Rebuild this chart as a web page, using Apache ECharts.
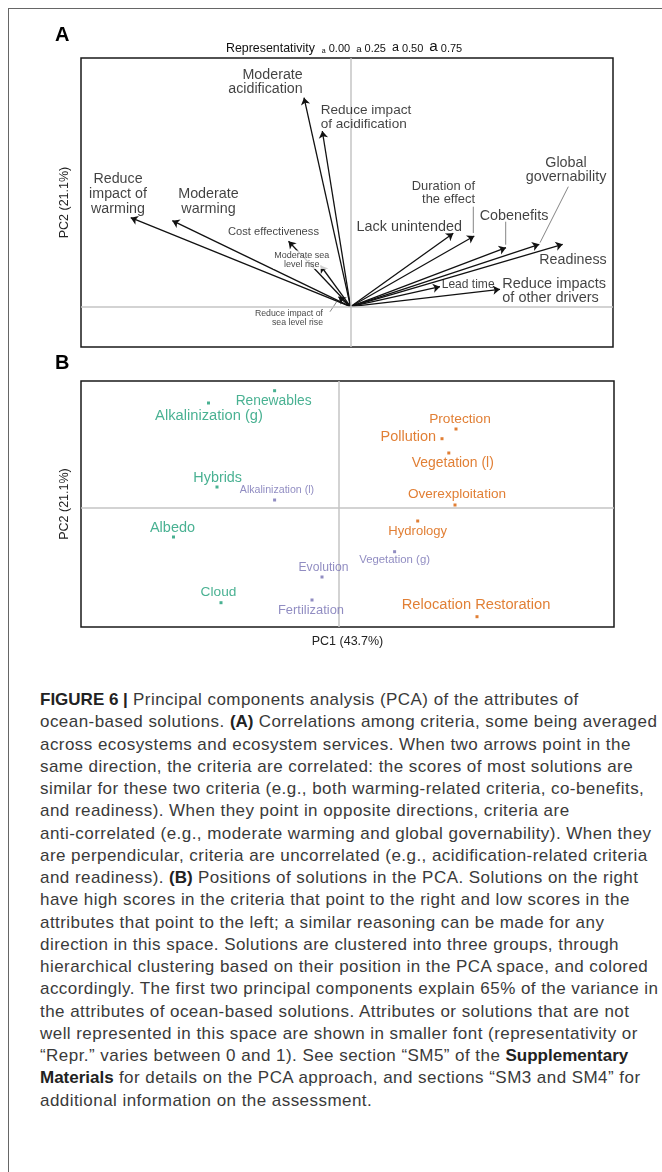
<!DOCTYPE html>
<html>
<head>
<meta charset="utf-8">
<script src="https://cdn.jsdelivr.net/npm/echarts@6/dist/echarts.min.js"></script>
<style>
html,body{margin:0;padding:0;width:662px;height:1172px;overflow:hidden;background:#fff;}
#frame{position:absolute;left:8px;top:8px;width:720px;height:1250px;border:1px solid #666;box-sizing:border-box;}
#chart{position:absolute;left:0;top:0;width:662px;height:665px;}
#caption{position:absolute;left:40px;top:689px;font-family:'Liberation Sans',Arial,sans-serif;font-size:17px;letter-spacing:0.45px;line-height:22.25px;color:#3a3a3a;white-space:nowrap;}
#caption b{font-weight:bold;color:#222;letter-spacing:0px;}
</style>
</head>
<body>
<div id="frame"></div>
<div id="chart"></div>
<div id="caption"><b>FIGURE 6 |</b> Principal components analysis (PCA) of the attributes of<br>ocean-based solutions. <b>(A)</b> Correlations among criteria, some being averaged<br>across ecosystems and ecosystem services. When two arrows point in the<br>same direction, the criteria are correlated: the scores of most solutions are<br>similar for these two criteria (e.g., both warming-related criteria, co-benefits,<br>and readiness). When they point in opposite directions, criteria are<br>anti-correlated (e.g., moderate warming and global governability). When they<br>are perpendicular, criteria are uncorrelated (e.g., acidification-related criteria<br>and readiness). <b>(B)</b> Positions of solutions in the PCA. Solutions on the right<br>have high scores in the criteria that point to the right and low scores in the<br>attributes that point to the left; a similar reasoning can be made for any<br>direction in this space. Solutions are clustered into three groups, through<br>hierarchical clustering based on their position in the PCA space, and colored<br>accordingly. The first two principal components explain 65% of the variance in<br>the attributes of ocean-based solutions. Attributes or solutions that are not<br>well represented in this space are shown in smaller font (representativity or<br>“Repr.” varies between 0 and 1). See section “SM5” of the <b>Supplementary</b><br><b>Materials</b> for details on the PCA approach, and sections “SM3 and SM4” for<br>additional information on the assessment.</div>
<script>
// ---------- DATA ----------
const criteria = ['Moderate acidification','Reduce impact of acidification','Reduce impact of warming','Moderate warming','Cost effectiveness','Moderate sea level rise','Reduce impact of sea level rise','Lack unintended','Duration of the effect','Cobenefits','Global governability','Readiness','Lead time','Reduce impacts of other drivers'];
const criteriaText = ['Moderate\nacidification','Reduce impact\nof acidification','Reduce\nimpact of\nwarming','Moderate\nwarming','Cost effectiveness','Moderate sea\nlevel rise','Reduce impact of\nsea level rise','Lack unintended','Duration of\nthe effect','Cobenefits','Global\ngovernability','Readiness','Lead time','Reduce impacts\nof other drivers'];
const criteriaPC1 = [-0.465,-0.282,-2.198,-1.782,-0.62,-0.30,-0.12,1.028,1.238,1.555,1.888,2.122,0.895,1.495];
const criteriaPC2 = [2.09,1.757,0.89,0.86,0.654,0.412,0.10,0.734,0.707,0.59,0.624,0.624,0.20,0.174];
const criteriaRepr = [0.75,0.69,0.75,0.76,0.47,0.27,0.25,0.76,0.63,0.76,0.76,0.75,0.55,0.77];

const solutions = ['Renewables','Alkalinization (g)','Protection','Pollution','Vegetation (l)','Hybrids','Alkalinization (l)','Overexploitation','Albedo','Hydrology','Vegetation (g)','Evolution','Cloud','Fertilization','Relocation Restoration'];
const solutionPC1 = [-0.644,-1.305,1.17,1.03,1.098,-1.22,-0.644,1.16,-1.655,0.787,0.556,-0.17,-1.18,-0.27,1.38];
const solutionPC2 = [1.173,1.05,0.79,0.693,0.55,0.21,0.08,0.03,-0.29,-0.13,-0.437,-0.69,-0.947,-0.92,-1.087];
const solutionRepr = [0.71,0.79,0.70,0.77,0.72,0.76,0.42,0.69,0.77,0.64,0.49,0.56,0.70,0.63,0.79];
const solutionGroup = [1,1,2,2,2,1,3,2,1,2,3,3,1,3,2];

const reprTicks = [0, 0.25, 0.5, 0.75];
const axisTitles = {pc1: 'PC1 (43.7%)', pc2: 'PC2 (21.1%)'};

// ---------- LAYOUT / STYLE ----------
const FONT = "'Liberation Sans', Arial, Helvetica, sans-serif";
const groupColor = {1:'#1b9e77', 2:'#d95f02', 3:'#7570b3'};
const fontFor = r => 6 + 11 * r;
// label offsets (px) relative to arrow tip: [dx, dy, align, whiteBg]
const critLabelLayout = [
  [-1.3,-15.6,'right'],[-1.6,-13.9,'left'],[-12.7,-23.7,'center'],[36.2,-19.1,'center'],
  [-15,-9.6,'center'],[-18.8,-5.8,'center',true],[-15.5,21.3,'right'],[-44,-6.6,'center'],
  [0.7,-43,'right'],[8,-32,'center'],[26.7,-74.3,'center'],[10.3,15.4,'center'],
  [1.7,-2.4,'left'],[2.3,1.7,'left']
];
// leader lines: [criterion index, dx1, dy1, dx2, dy2] relative to tip (px)
const critLeaders = [[6,-8.5,15,-1.8,5],[8,-1,-29.3,-1,-3],[9,-0.3,-26,-0.3,-3],[10,29,-57.6,0.7,-1.6]];
const solLabelLayout = [
  [-1,10,'center'],[0.5,12.7,'center'],[4,-10,'center'],[-6,-1.7,'right'],[4,10,'center'],
  [0.7,-9.3,'center'],[2.4,-10,'center'],[2,-11,'center'],[-1,-9.3,'center'],[0,10,'center'],
  [0,8.3,'center'],[1.5,-9.3,'center'],[-2.5,-10.7,'center'],[-1,10,'center'],[-1,-11.7,'center']
];

const chart = echarts.init(document.getElementById('chart'), null, {renderer:'canvas'});

function axisBase(extra){
  return Object.assign({
    type:'value', axisLine:{show:false}, axisTick:{show:false}, axisLabel:{show:false},
    splitLine:{show:false}, nameTextStyle:{fontFamily:FONT, fontSize:12.5, color:'#222'}
  }, extra);
}
const crossLine = {
  silent:true, symbol:'none', animation:false, label:{show:false},
  lineStyle:{color:'#c4c4c4', width:1.5, type:'solid'},
  emphasis:{disabled:true},
  data:[{xAxis:0},{yAxis:0}]
};

const legendText = '{t|Representativity}' + reprTicks.map((r,i)=>'{a'+i+'|a}{n|'+r.toFixed(2)+'}').join('');
const legendRich = {t:{fontFamily:FONT, fontSize:12.4, fill:'#111', verticalAlign:'bottom'}, n:{fontFamily:FONT, fontSize:11, fill:'#111', verticalAlign:'bottom'}};
reprTicks.forEach((r,i)=>{ legendRich['a'+i] = {fontFamily:FONT, fontSize:fontFor(r)+1, fill:'#111', padding:[0,3,0,i===0?7:6], verticalAlign:'bottom'}; });

const option = {
  animation:false,
  grid:[
    {left:81, top:58, width:532, height:289, show:true, borderColor:'#1a1a1a', borderWidth:1.5, backgroundColor:'transparent'},
    {left:81, top:381, width:533, height:246, show:true, borderColor:'#1a1a1a', borderWidth:1.5, backgroundColor:'transparent'}
  ],
  xAxis:[
    axisBase({gridIndex:0, min:-2.695, max:2.625}),
    axisBase({gridIndex:1, min:-2.58, max:2.75, name:axisTitles.pc1, nameLocation:'middle', nameGap:8})
  ],
  yAxis:[
    axisBase({gridIndex:0, min:-0.403, max:2.487, name:axisTitles.pc2, nameLocation:'middle', nameGap:10}),
    axisBase({gridIndex:1, min:-1.19, max:1.27, name:axisTitles.pc2, nameLocation:'middle', nameGap:10})
  ],
  graphic:[
    {type:'text', style:{x:55, y:35.5, text:'A', font:'bold 20px '+FONT, fill:'#000', verticalAlign:'middle', textVerticalAlign:'middle'}},
    {type:'text', style:{x:55, y:363, text:'B', font:'bold 20px '+FONT, fill:'#000', verticalAlign:'middle', textVerticalAlign:'middle'}},
    {type:'text', style:{x:226, y:47, text:legendText, rich:legendRich, verticalAlign:'middle', textVerticalAlign:'middle'}}
  ],
  series:[
    {type:'scatter', xAxisIndex:0, yAxisIndex:0, data:[], z:1, markLine:crossLine},
    {type:'lines', coordinateSystem:'cartesian2d', xAxisIndex:0, yAxisIndex:0, z:2, silent:true,
     symbol:['none','arrow'], symbolSize:7,
     lineStyle:{color:'#111', width:1.3, opacity:1},
     data: criteria.map((c,i)=>({name:c, coords:[[0,0],[criteriaPC1[i], criteriaPC2[i]]]}))},
    {type:'custom', xAxisIndex:0, yAxisIndex:0, z:2, silent:true,
     data: critLeaders.map(l=>[criteriaPC1[l[0]], criteriaPC2[l[0]], l[1], l[2], l[3], l[4]]),
     encode:{x:0, y:1},
     renderItem:(params, api)=>{
       const p = api.coord([api.value(0), api.value(1)]);
       return {type:'line', shape:{x1:p[0]+api.value(2), y1:p[1]+api.value(3), x2:p[0]+api.value(4), y2:p[1]+api.value(5)},
               style:{stroke:'#666', lineWidth:0.8}};
     }},
    {type:'scatter', xAxisIndex:0, yAxisIndex:0, z:5, silent:true, symbolSize:0.01,
     itemStyle:{color:'rgba(0,0,0,0)'},
     data: criteria.map((c,i)=>{
       const fs = fontFor(criteriaRepr[i]); const L = critLabelLayout[i];
       return {name:c, value:[criteriaPC1[i], criteriaPC2[i]],
         label:{show:true, formatter:criteriaText[i], position:'inside', offset:[L[0],L[1]], align:L[2], verticalAlign:'middle',
                fontFamily:FONT, fontSize:fs, lineHeight:fs*1.03, color:'#111',
                backgroundColor: L[3] ? '#fff' : 'transparent', padding: L[3] ? [0,1,0,1] : 0}};
     })},
    {type:'scatter', xAxisIndex:1, yAxisIndex:1, data:[], z:1, markLine:crossLine},
    {type:'scatter', xAxisIndex:1, yAxisIndex:1, z:5, silent:true, symbol:'rect', symbolSize:3,
     data: solutions.map((s,i)=>{
       const fs = fontFor(solutionRepr[i]); const L = solLabelLayout[i]; const col = groupColor[solutionGroup[i]];
       return {name:s, value:[solutionPC1[i], solutionPC2[i]], itemStyle:{color:col},
         label:{show:true, formatter:s, position:'inside', offset:[L[0],L[1]], align:L[2], verticalAlign:'middle',
                fontFamily:FONT, fontSize:fs, color:col}};
     })}
  ]
};
chart.setOption(option);
</script>
</body>
</html>
